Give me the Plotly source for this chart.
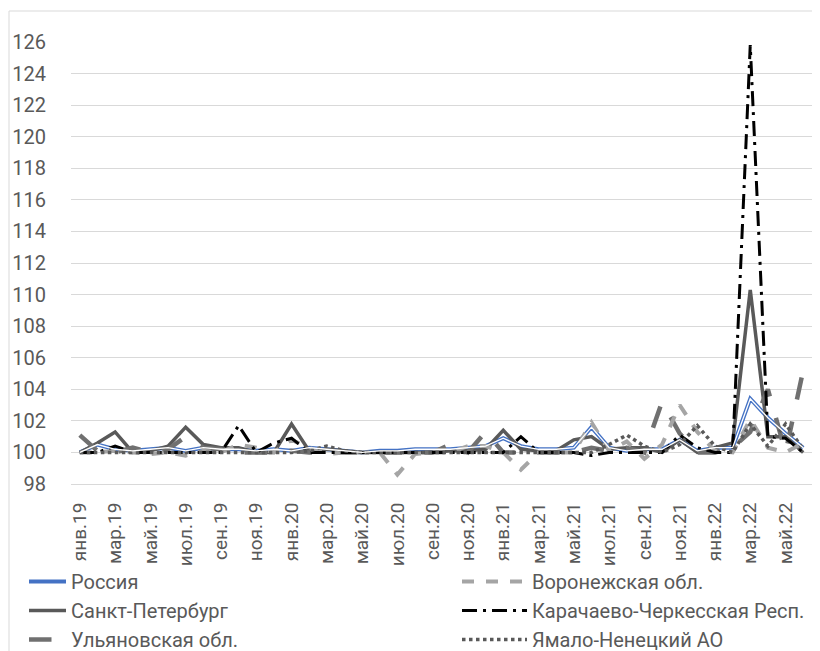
import plotly.graph_objects as go

months = []
mnames = ["янв", "фев", "мар", "апр", "май", "июн", "июл", "авг", "сен", "окт", "ноя", "дек"]
for yr in ["19", "20", "21", "22"]:
    for m in mnames:
        months.append(f"{m}.{yr}")
months = months[:42]
tick_labels = months[::2]

russia = [100.0, 100.5, 100.2, 100.1, 100.2, 100.3, 100.1, 100.3, 100.2, 100.2, 100.1, 100.2,
          100.1, 100.3, 100.2, 100.1, 100.0, 100.1, 100.1, 100.2, 100.2, 100.2, 100.3, 100.4,
          100.9, 100.4, 100.2, 100.2, 100.3, 101.6, 100.3, 100.1, 100.2, 100.2, 100.8, 100.1,
          100.3, 100.3, 103.4, 102.2, 101.2, 100.3]
voronezh = [100.0, 100.0, 100.1, 100.0, 99.9, 100.0, 99.8, 100.1, 100.0, 100.5, 100.3, 100.0,
            100.8, 100.3, 99.9, 100.0, 100.0, 100.0, 98.6, 99.9, 100.0, 100.0, 100.4, 100.4,
            100.0, 98.9, 100.0, 100.0, 100.0, 101.9, 100.1, 100.7, 99.6, 100.5, 103.0, 101.3,
            100.1, 100.0, 102.1, 100.3, 100.0, 100.6]
spb = [100.0, 100.6, 101.3, 100.0, 100.1, 100.4, 101.6, 100.5, 100.3, 100.3, 100.0, 100.0,
       101.8, 100.1, 100.2, 100.1, 100.0, 100.0, 100.0, 100.0, 100.0, 100.1, 100.1, 100.2,
       101.4, 100.2, 100.1, 100.1, 100.8, 101.0, 100.2, 100.3, 100.3, 100.0, 100.8, 100.0,
       100.3, 100.6, 110.3, 101.0, 101.0, 100.0]
karach = [100.0, 100.0, 100.4, 100.0, 100.0, 100.0, 100.0, 100.0, 100.0, 101.7, 100.0, 100.6,
          100.9, 100.0, 100.0, 100.0, 100.0, 100.0, 100.0, 100.0, 100.0, 100.0, 100.0, 100.0,
          100.0, 101.0, 100.0, 100.0, 100.0, 99.8, 100.0, 100.0, 100.0, 100.0, 101.1, 100.3,
          100.0, 100.0, 125.8, 101.0, 100.9, 100.0]
ulyan = [101.1, 100.1, 100.0, 100.3, 100.0, 100.2, 101.0, 100.3, 100.2, 100.0, 100.0, 100.0,
         100.1, 100.0, 100.0, 100.0, 100.0, 100.0, 100.0, 100.0, 100.0, 100.5, 100.0, 101.3,
         100.0, 100.0, 100.0, 100.0, 100.0, 100.3, 100.1, 100.3, 100.0, 103.2, 101.2, 100.0,
         100.0, 100.3, 101.3, 104.0, 100.0, 105.2]
yamal = [100.0, 100.0, 100.0, 100.0, 100.0, 100.0, 100.0, 100.0, 100.0, 100.0, 100.0, 100.0,
         100.0, 100.1, 100.4, 100.1, 100.0, 100.0, 100.0, 100.0, 100.0, 100.0, 100.0, 100.0,
         100.0, 100.0, 100.0, 100.0, 100.0, 100.0, 100.5, 101.1, 100.4, 100.0, 100.5, 101.7,
         100.4, 100.0, 101.8, 100.4, 101.8, 100.2]

fig = go.Figure()
# left legend column
fig.add_trace(go.Scatter(x=months, y=russia, name="Россия", mode="lines", legend="legend",
                         line=dict(color="#4472C4", width=4)))
fig.add_trace(go.Scatter(x=months, y=spb, name="Санкт-Петербург", mode="lines", legend="legend",
                         line=dict(color="#595959", width=3.5)))
fig.add_trace(go.Scatter(x=months, y=ulyan, name="Ульяновская обл.", mode="lines", legend="legend",
                         line=dict(color="#707070", width=4.5, dash="longdash")))
# right legend column
fig.add_trace(go.Scatter(x=months, y=voronezh, name="Воронежская обл.", mode="lines", legend="legend2",
                         line=dict(color="#A5A5A5", width=4, dash="dash")))
fig.add_trace(go.Scatter(x=months, y=karach, name="Карачаево-Черкесская Респ.", mode="lines",
                         legend="legend2", line=dict(color="#000000", width=3, dash="longdashdot")))
fig.add_trace(go.Scatter(x=months, y=yamal, name="Ямало-Ненецкий АО", mode="lines", legend="legend2",
                         line=dict(color="#595959", width=3.5, dash="dot")))
# white core of Russia's double line
fig.add_trace(go.Scatter(x=months, y=russia, mode="lines", showlegend=False, hoverinfo="skip",
                         line=dict(color="#FFFFFF", width=1.3)))

# page body has an 8px margin: figure sized to fit the 820x651 window
W, H = 812, 643
L, R, T, B = 63, 8, 34, 167
pw, ph = W - L - R, H - T - B

legend_font = dict(family="Roboto, sans-serif", size=20, color="#595959")
fig.update_layout(
    width=W, height=H,
    paper_bgcolor="white", plot_bgcolor="white",
    margin=dict(l=L, r=R, t=T, b=B, autoexpand=False),
    font=dict(family="Roboto, sans-serif", size=19, color="#595959"),
    xaxis=dict(type="category", tickmode="array", tickvals=tick_labels, ticktext=tick_labels,
               tickangle=-90, showgrid=False, showline=True, linecolor="#D9D9D9", linewidth=1,
               ticks="outside", ticklen=10, tickcolor="rgba(0,0,0,0)",
               tickfont=dict(size=19, color="#595959"), range=[-0.5, 41.5], automargin=False),
    yaxis=dict(range=[98, 126], dtick=2, tick0=98, showgrid=True, gridcolor="#D9D9D9",
               gridwidth=1, zeroline=False, showline=False, automargin=False,
               ticks="outside", ticklen=20, tickcolor="rgba(0,0,0,0)",
               tickfont=dict(size=20, color="#595959")),
    legend=dict(orientation="v", x=(16 - L) / pw, xanchor="left", y=(ph + T - 554) / ph,
                yanchor="top", font=legend_font, tracegroupgap=0, itemwidth=37,
                bgcolor="rgba(0,0,0,0)"),
    legend2=dict(orientation="v", x=(449 - L) / pw, xanchor="left", y=(ph + T - 554) / ph,
                 yanchor="top", font=legend_font, tracegroupgap=0, itemwidth=65,
                 bgcolor="rgba(0,0,0,0)"),
    shapes=[dict(type="rect", xref="paper", yref="paper",
                 x0=(1 - L) / pw, x1=(809 - L) / pw, y0=-0.45, y1=(ph + T - 3) / ph,
                 line=dict(color="#D9D9D9", width=1), layer="above")],
)

fig.write_html("out.html")
